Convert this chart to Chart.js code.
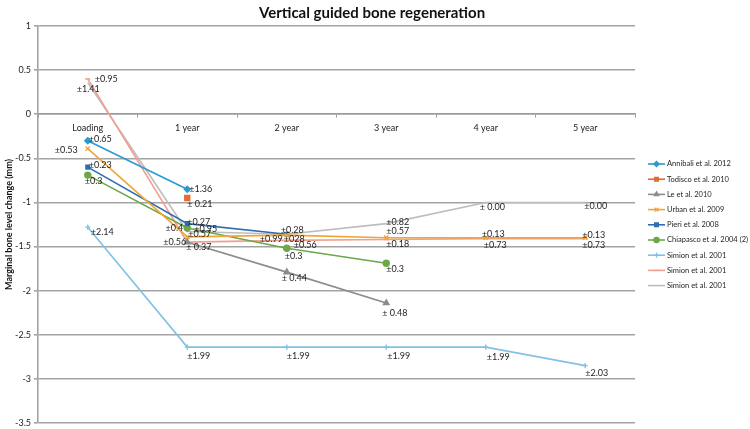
<!DOCTYPE html>
<html>
<head>
<meta charset="utf-8">
<script src="https://cdn.jsdelivr.net/npm/chart.js@4.4.1/dist/chart.umd.min.js"></script>
<style>
  html, body { margin: 0; padding: 0; background: #ffffff; }
  #wrap { width: 750px; height: 429px; position: relative; }
</style>
</head>
<body>
<div id="wrap"><canvas id="c" width="750" height="429"></canvas></div>
<script>
// ---- Data ----
const categories = ['Loading', '1 year', '2 year', '3 year', '4 year', '5 year'];
const seriesNames = ['Annibali et al. 2012', 'Todisco et al. 2010', 'Le et al. 2010', 'Urban et al. 2009',
  'Pieri et al. 2008', 'Chiapasco et al. 2004 (2)', 'Simion et al. 2001', 'Simion et al. 2001', 'Simion et al. 2001'];
const annibali   = [-0.30, -0.85, null, null, null, null];
const todisco    = [null, -0.95, null, null, null, null];
const le2010     = [null, -1.45, -1.79, -2.14, null, null];
const urban      = [-0.39, -1.39, -1.37, -1.40, -1.40, -1.40];
const pieri      = [-0.60, -1.24, -1.36, null, null, null];
const chiapasco  = [-0.69, -1.29, -1.52, -1.69, null, null];
const simionBlue = [-1.28, -2.64, -2.64, -2.64, -2.64, -2.85];
const simionRed  = [0.40, -1.45, -1.43, -1.42, -1.41, -1.41];
const simionGray = [0.36, -1.33, -1.36, -1.24, -1.00, -1.00];
const yTicks = [1, 0.5, 0, -0.5, -1, -1.5, -2, -2.5, -3, -3.5];

// error labels (text only)
const annibaliSD   = ['±0.65', '±1.36', '', '', '', ''];
const todiscoSD    = ['', '± 0.21', '', '', '', ''];
const leSD         = ['', '± 0.37', '± 0.44', '± 0.48', '', ''];
const urbanSD      = ['±0.53', '±0.4', '±028', '±0.57', '±0.13', '±0.13'];
const pieriSD      = ['±0.23', '±0.27', '±0.28', '', '', ''];
const chiapascoSD  = ['±0.3', '±0.95', '±0.3', '±0.3', '', ''];
const simionBlueSD = ['±2.14', '±1.99', '±1.99', '±1.99', '±1.99', '±2.03'];
const simionRedSD  = ['±0.95', '±0.56', '±0.56', '±0.18', '±0.73', '±0.73'];
const simionGraySD = ['±1.41', '±0.57', '±0.99', '±0.82', '± 0.00', '±0.00'];

// ---- Styles ----
const styles = [
  {color: '#2a9ad0', point: 'rectRot', r: 3},
  {color: '#e36b36', point: 'rect', r: 3.5},
  {color: '#8c8c8c', point: 'triangle', r: 3.2},
  {color: '#f2a535', point: 'crossRot', r: 3},
  {color: '#2f6db3', point: 'rect', r: 2.6},
  {color: '#6ba84a', point: 'circle', r: 3},
  {color: '#82c1e4', point: 'cross', r: 2.6},
  {color: '#f29f8e', point: 'line', r: 2.6},
  {color: '#bdbdbd', point: false, r: 0}
];
// label offsets [dx, dy, align] per dataset per category
const labelOffsets = [
  [[1,-2,'l'],[2,0,'l']],
  [null,[0,6,'l']],
  [null,[-1,5,'l'],[-5,6,'l'],[-4,10,'l']],
  [[-10,1,'r'],[-4,-9,'r'],[-3,4,'l'],[0,-7,'l'],[-4,-4,'l'],[-3,-3,'l']],
  [[1,-2,'l'],[0,-2,'l'],[-6,-4,'l']],
  [[-3,6,'l'],[7,1,'l'],[-2,8,'l'],[0,6,'l']],
  [[3,5,'l'],[0,9,'l'],[0,9,'l'],[1,9,'l'],[1,10,'l'],[0,7,'l']],
  [[7,0,'l'],[-1,0,'r'],[7,5,'l'],[0,5,'l'],[-2,6,'l'],[-3,6,'l']],
  [[-11,7,'l'],[1,3,'l'],[-4,5,'r'],[0,-2,'l'],[-6,5,'l'],[-1,4,'l']]
];

const values = [annibali, todisco, le2010, urban, pieri, chiapasco, simionBlue, simionRed, simionGray];
const sds = [annibaliSD, todiscoSD, leSD, urbanSD, pieriSD, chiapascoSD, simionBlueSD, simionRedSD, simionGraySD];

const datasets = values.map((v, i) => ({
  label: seriesNames[i],
  data: v,
  borderColor: styles[i].color,
  backgroundColor: styles[i].color,
  borderWidth: 1.6,
  pointStyle: styles[i].point,
  pointRadius: styles[i].r,
  pointBorderWidth: 1.4,
  tension: 0,
  spanGaps: false,
  sd: sds[i],
  offs: labelOffsets[i]
}));

const FONT = 'Lato, "Open Sans", sans-serif';

const decorPlugin = {
  id: 'decor',
  afterDatasetsDraw(chart) {
    const ctx = chart.ctx;
    ctx.save();
    // data labels
    ctx.font = '9px ' + FONT;
    ctx.fillStyle = '#1e1e1e';
    ctx.textBaseline = 'middle';
    chart.data.datasets.forEach((ds, i) => {
      const meta = chart.getDatasetMeta(i);
      ds.sd.forEach((t, j) => {
        if (!t || ds.data[j] === null) return;
        const p = meta.data[j];
        const o = (ds.offs && ds.offs[j]) || [2, 0, 'l'];
        ctx.textAlign = o[2] === 'r' ? 'right' : 'left';
        ctx.fillText(t, p.x + o[0], p.y + o[1]);
      });
    });
    // title
    ctx.font = 'bold 15px ' + FONT;
    ctx.textAlign = 'center';
    ctx.fillStyle = '#111';
    ctx.fillText('Vertical guided bone regeneration', 372, 13);
    // legend
    ctx.textAlign = 'left';
    chart.data.datasets.forEach((ds, i) => {
      const y = 164 + i * 15.2;
      ctx.strokeStyle = ds.borderColor;
      ctx.lineWidth = 1.6;
      ctx.beginPath(); ctx.moveTo(648, y); ctx.lineTo(665, y); ctx.stroke();
      if (ds.pointStyle) {
        ctx.fillStyle = ds.backgroundColor;
        ctx.strokeStyle = ds.borderColor;
        ctx.lineWidth = 1.3;
        Chart.helpers.drawPoint(ctx, {pointStyle: ds.pointStyle, radius: Math.min(ds.pointRadius, 2.6), borderWidth: 1.3}, 656.5, y);
      }
      ctx.font = '7.5px ' + FONT;
      ctx.fillStyle = '#1e1e1e';
      ctx.fillText(ds.label, 667, y);
    });
    ctx.restore();
  }
};

new Chart(document.getElementById('c'), {
  type: 'line',
  data: { labels: categories, datasets },
  options: {
    responsive: false,
    animation: false,
    devicePixelRatio: 1,
    layout: { padding: { top: 26, right: 115, bottom: 6, left: 0 } },
    plugins: { legend: { display: false }, title: { display: false }, tooltip: { enabled: false } },
    scales: {
      x: {
        type: 'category',
        position: { y: 0 },
        offset: true,
        grid: { display: true, drawOnChartArea: false, offset: true, tickLength: 3, color: '#9a9a9a', lineWidth: 1 },
        border: { display: true, color: '#9a9a9a', width: 1.6 },
        ticks: { color: '#222', font: { family: FONT, size: 9 }, padding: 5, maxRotation: 0 }
      },
      y: {
        min: -3.5, max: 1,
        afterFit(scale) { scale.width = 38; scale.paddingTop = 0; scale.paddingBottom = 0; },
        afterBuildTicks(scale) { scale.ticks = yTicks.map(v => ({ value: v })); },
        grid: { color: '#a3a3a3', lineWidth: 1.6, tickLength: 4, drawTicks: true },
        border: { display: true, color: '#a3a3a3', width: 1.6 },
        ticks: { color: '#222', font: { family: FONT, size: 9 }, padding: 3, callback: v => String(v) },
        title: { display: true, text: 'Marginal bone level change (mm)', color: '#111',
                 font: { family: FONT, size: 9, weight: 'bold' }, padding: { top: 4, bottom: 0 } }
      }
    }
  },
  plugins: [decorPlugin]
});
</script>
</body>
</html>
